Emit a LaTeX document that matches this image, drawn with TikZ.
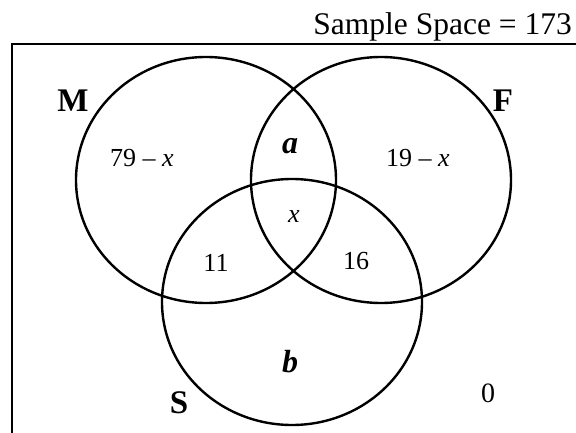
\documentclass[tikz,border=0pt]{standalone}
\usepackage{fontspec}
\setmainfont{Liberation Serif}
\tikzset{
  setname/.style={inner sep=0pt,font=\fontsize{33}{38}\selectfont\bfseries},
  count/.style={inner sep=0pt,font=\fontsize{26}{30}\selectfont},
  unknown/.style={inner sep=0pt,font=\fontsize{32}{36}\selectfont\bfseries\itshape}
}
\begin{document}
\begin{tikzpicture}[x=1pt,y=-1pt,line width=2.4pt]
    \useasboundingbox (0,0) rectangle (576,433);
    % frame of the sample space
    \draw (576,44) -- (12,44) -- (12,433);
    \node[anchor=base east,inner sep=0pt,font=\fontsize{31.5}{36}\selectfont] (total) at (573,35) {Sample Space = 173};
    % the three sets
    \draw (206,180) ellipse [x radius=130,y radius=123];
    \draw (381,180) ellipse [x radius=130,y radius=123];
    \draw (292,302) ellipse [x radius=130,y radius=123];
    \node[setname] (M) at (73,101) {M};
    \node[setname] (F) at (503,101) {F};
    \node[setname] (S) at (179,403) {S};
    % regions
    \node[count] (onlyM) at (142,158) {79 – \textit{x}};
    \node[count] (onlyF) at (418,158) {19 – \textit{x}};
    \node[unknown] (MF) at (290,146) {a};
    \node[count] (MFS) at (294,217) {\textit{x}};
    \node[count] (MS) at (216,263) {11};
    \node[count] (FS) at (356,261) {16};
    \node[unknown] (onlyS) at (290,362) {b};
    \node[inner sep=0pt,font=\fontsize{28}{34}\selectfont] (none) at (488,393) {0};
\end{tikzpicture}
\end{document}
